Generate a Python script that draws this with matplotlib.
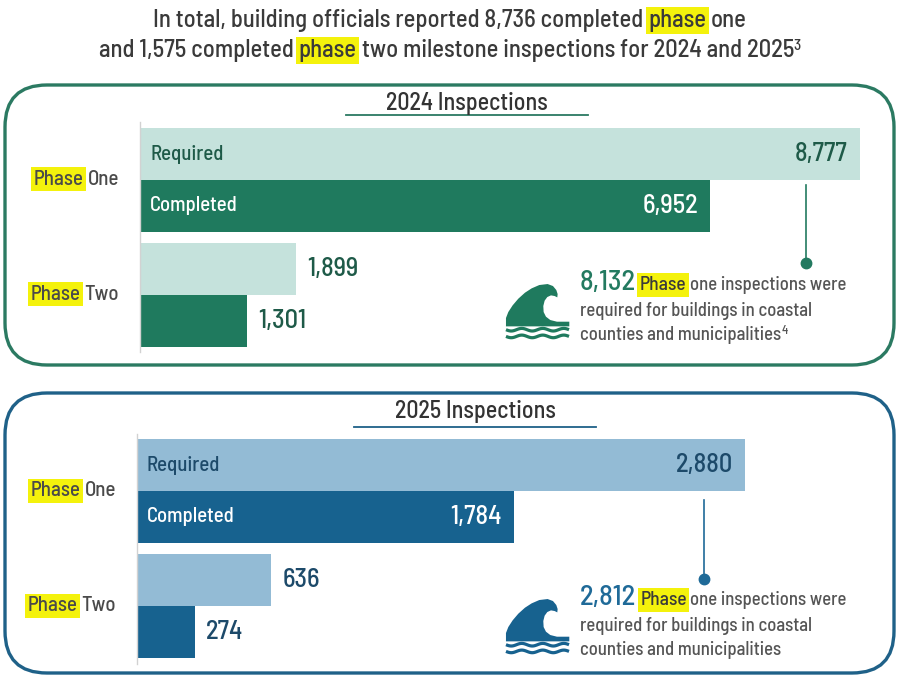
import numpy as np
import matplotlib.pyplot as plt
from matplotlib.patches import FancyBboxPatch, Polygon

plt.rcParams['font.family'] = ['Barlow Semi Condensed', 'Archivo Narrow', 'DejaVu Sans']
plt.rcParams['font.weight'] = 'medium'

W, H = 900, 689

# data
phases = ['One', 'Two']
required_2024 = [8777, 1899]
completed_2024 = [6952, 1301]
required_2025 = [2880, 636]
completed_2025 = [1784, 274]
coastal_required = [8132, 2812]
total_completed = [8736, 1575]

GRAY = '#4a4a4a'
YEL = '#f4f20c'

panels = [
    dict(year='2024', req=required_2024, comp=completed_2024, coastal=coastal_required[0], note_sup='4',
         top=85, bottom=365, ul=(346, 588), ul_y=115, ax_left=140, ax_w=720, ax_top=122.5,
         line_x=806, line_y=(185, 263), note_y=290,
         dark='#1f7a5e', light='#c5e2dc', border='#2b7a62', label='#1e5a48', note='#237a60'),
    dict(year='2025', req=required_2025, comp=completed_2025, coastal=coastal_required[1], note_sup='',
         top=393, bottom=673, ul=(354, 596), ul_y=427, ax_left=137, ax_w=608, ax_top=433.5,
         line_x=704, line_y=(500, 579), note_y=605,
         dark='#17628f', light='#93bbd5', border='#1f6188', label='#1d4a6a', note='#1f6a98'),
]

fig = plt.figure(figsize=(W / 100, H / 100), dpi=100)
fig.patch.set_facecolor('white')
bg = fig.add_axes([0, 0, 1, 1])
bg.set_xlim(0, W)
bg.set_ylim(H, 0)
bg.axis('off')
renderer = fig.canvas.get_renderer()


def space_w(size):
    a = bg.text(0, 0, 'x x', fontsize=size)
    b = bg.text(0, 0, 'xx', fontsize=size)
    w = a.get_window_extent(renderer).width - b.get_window_extent(renderer).width
    a.remove()
    b.remove()
    return w


def rich(x, y, segs, ha='left'):
    # draw text pieces one after another on a common baseline
    objs, widths, gaps = [], [], []
    for s, kw in segs:
        kw = dict(kw)
        dy = kw.pop('dy', 0)
        gap = space_w(kw['fontsize']) if s.startswith(' ') else 0
        t = bg.text(0, y + dy, s.lstrip(' '), va='baseline', ha='left', **kw)
        objs.append(t)
        widths.append(t.get_window_extent(renderer).width)
        gaps.append(gap)
    total = sum(widths) + sum(gaps)
    x0 = {'left': x, 'center': x - total / 2, 'right': x - total}[ha]
    for t, w, g in zip(objs, widths, gaps):
        x0 += g
        t.set_x(x0)
        x0 += w
    return objs


def hl(**kw):
    kw['bbox'] = dict(facecolor=YEL, edgecolor='none', pad=1.8)
    return kw


# wave icon outline (pixels, icon-local)
wave_body = np.array([
    (35, 155), (35, 130), (42, 112), (55, 92), (72, 72), (92, 54), (112, 41), (135, 31),
    (160, 28), (176, 34), (186, 46), (190, 58), (189, 68), (181, 64), (170, 62), (159, 67),
    (151, 78), (147, 94), (148, 112), (155, 126), (168, 136), (188, 141), (225, 141),
    (225, 155)]) / 3.0 - [11.7, 9.3]


def draw_icon(x0, y0, color):
    bg.add_patch(Polygon(wave_body + [x0, y0], closed=True, fc=color, ec='none'))
    xs = np.linspace(0, 63, 120)
    for yy in (45.7, 52.4):
        bg.plot(x0 + xs, y0 + yy + 1.3 * np.sin(xs / 21 * 2 * np.pi), color=color, lw=2.3,
                solid_capstyle='butt')


# headline
T = dict(fontsize=17.7, color='#3a3a3a')
rich(450, 27, [(f"In total, building officials reported {total_completed[0]:,} completed", T),
               (" phase", hl(**T)), (" one", T)], ha='center')
rich(450, 57, [(f"and {total_completed[1]:,} completed", T), (" phase", hl(**T)),
               (" two milestone inspections for 2024 and 2025", T),
               ("3", dict(fontsize=11, color='#3a3a3a', dy=-7))], ha='center')

for p in panels:
    top, bottom = p['top'], p['bottom']
    bg.add_patch(FancyBboxPatch((5, top), 889, bottom - top,
                                boxstyle='round,pad=0,rounding_size=42',
                                fc='none', ec=p['border'], lw=2.4))
    ux0, ux1 = p['ul']
    rich((ux0 + ux1) / 2, top + 25, [(f"{p['year']} Inspections", dict(fontsize=17.3, color='#333333'))],
         ha='center')
    bg.plot([ux0, ux1], [p['ul_y'], p['ul_y']], color=p['border'], lw=1.3)

    ax = fig.add_axes([p['ax_left'] / W, 1 - (p['ax_top'] + 230) / H, p['ax_w'] / W, 230 / H])
    idx = np.arange(len(phases))
    ax.barh(idx - 0.225, p['req'], height=0.45, color=p['light'])
    ax.barh(idx + 0.225, p['comp'], height=0.45, color=p['dark'])
    ax.set_xlim(0, max(p['req']))
    ax.set_ylim(1.5, -0.5)
    ax.set_xticks([])
    ax.set_yticks([])
    ax.patch.set_alpha(0)
    for s in ['top', 'right', 'bottom']:
        ax.spines[s].set_visible(False)
    ax.spines['left'].set_color('#d2d2d2')
    ax.spines['left'].set_linewidth(1)

    ax.annotate('Required', (0, -0.225), xytext=(10, 0), textcoords='offset pixels',
                va='center', ha='left', fontsize=15, color=p['label'])
    ax.annotate('Completed', (0, 0.225), xytext=(10, 0), textcoords='offset pixels',
                va='center', ha='left', fontsize=15, color='white')

    for j in idx:
        for val, off, col_in in ((p['req'][j], -0.225, p['label']), (p['comp'][j], 0.225, 'white')):
            if j == 0:
                ax.annotate(f"{val:,}", (val, j + off), xytext=(-12, 0), textcoords='offset pixels',
                            va='center', ha='right', fontsize=19, color=col_in)
            else:
                ax.annotate(f"{val:,}", (val, j + off), xytext=(11, 0), textcoords='offset pixels',
                            va='center', ha='left', fontsize=19, color=p['label'])
        yc = H - ax.transData.transform((0, j))[1]
        L = dict(fontsize=15, color=GRAY)
        rich(p['ax_left'] - 21, yc + 5, [("Phase", hl(**L)), (" " + phases[j], L)], ha='right')

    # callout
    lx = p['line_x']
    bg.plot([lx, lx], p['line_y'], color=p['note'], lw=1.2)
    bg.plot([lx], [p['line_y'][1]], 'o', color=p['note'], ms=7.5)

    ny = p['note_y']
    N = dict(fontsize=13.5, color='#555555')
    rich(580, ny, [(f"{p['coastal']:,}", dict(fontsize=20.5, color=p['note'])),
                   (" Phase", hl(fontsize=14, color='#3a3a3a')), (" one inspections were", N)])
    rich(580, ny + 26, [("required for buildings in coastal", N)])
    segs = [("counties and municipalities", N)]
    if p['note_sup']:
        segs.append((p['note_sup'], dict(fontsize=9, color='#555555', dy=-6)))
    rich(580, ny + 50, segs)
    draw_icon(506, ny - 6, p['dark'])

fig.savefig('out.png', dpi=100)
